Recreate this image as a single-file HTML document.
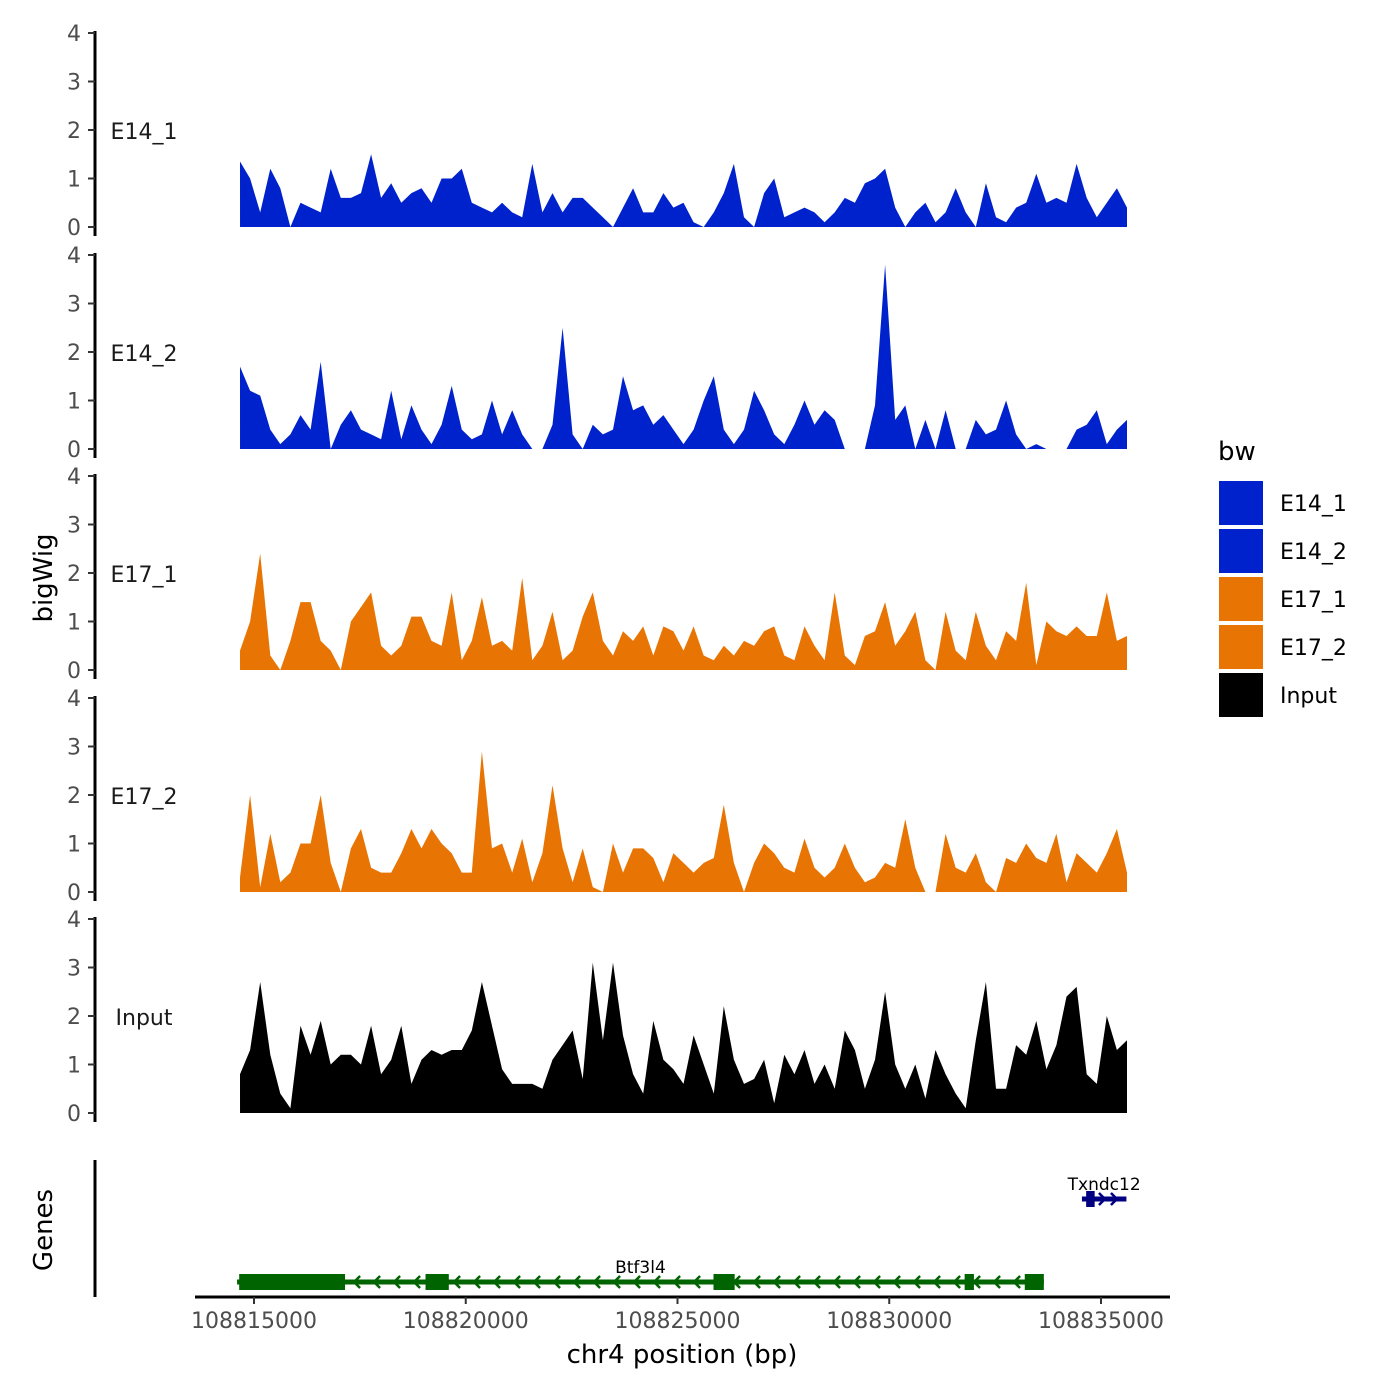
<!DOCTYPE html>
<html><head><meta charset="utf-8"><style>
html,body{margin:0;padding:0;background:#fff;}
svg{display:block;font-family:"DejaVu Sans","Liberation Sans",sans-serif;}
</style></head><body>
<svg id="chart" width="1400" height="1400" viewBox="0 0 1400 1400" xmlns="http://www.w3.org/2000/svg">
<g id="tracks"></g>
<g id="genes"></g>
<g id="xaxis"></g>
<g id="legend"></g>
<text x="0" y="0" transform="translate(52,578) rotate(-90)" text-anchor="middle" font-size="26" fill="#000">bigWig</text>
<text x="0" y="0" transform="translate(52,1230) rotate(-90)" text-anchor="middle" font-size="26" fill="#000">Genes</text>
<text x="682" y="1363" text-anchor="middle" font-size="26" fill="#000">chr4 position (bp)</text>
</svg>
<script>
const NS="http://www.w3.org/2000/svg";
const trackNames=["E14_1","E14_2","E17_1","E17_2","Input"];
const trackColors=["#0022cc","#0022cc","#e87503","#e87503","#000000"];
const posStart=108814670;
const posStep=238;
const yTicks=[0,1,2,3,4];
const xTicks=[108815000,108820000,108825000,108830000,108835000];
const e14_1=[1.35,1.0,0.3,1.2,0.8,0,0.5,0.4,0.3,1.2,0.6,0.6,0.7,1.5,0.6,0.9,0.5,0.7,0.8,0.5,1.0,1.0,1.2,0.5,0.4,0.3,0.5,0.3,0.2,1.3,0.3,0.7,0.3,0.6,0.6,0.4,0.2,0,0.4,0.8,0.3,0.3,0.7,0.4,0.5,0.1,0,0.3,0.7,1.3,0.2,0,0.7,1.0,0.2,0.3,0.4,0.3,0.1,0.3,0.6,0.5,0.9,1.0,1.2,0.4,0,0.3,0.5,0.1,0.3,0.8,0.3,0,0.9,0.2,0.1,0.4,0.5,1.1,0.5,0.6,0.5,1.3,0.6,0.2,0.5,0.8,0.4];
const e14_2=[1.7,1.2,1.1,0.4,0.1,0.3,0.7,0.4,1.8,0,0.5,0.8,0.4,0.3,0.2,1.2,0.2,0.9,0.4,0.1,0.5,1.3,0.4,0.2,0.3,1.0,0.3,0.8,0.3,0,0,0.5,2.5,0.3,0,0.5,0.3,0.4,1.5,0.8,0.9,0.5,0.7,0.4,0.1,0.4,1.0,1.5,0.4,0.1,0.4,1.2,0.8,0.3,0.1,0.5,1.0,0.5,0.8,0.6,0,0,0,0.9,3.8,0.6,0.9,0,0.6,0,0.8,0,0,0.6,0.3,0.4,1.0,0.3,0,0.1,0,0,0,0.4,0.5,0.8,0.1,0.4,0.6];
const e17_1=[0.4,1.0,2.4,0.3,0,0.6,1.4,1.4,0.6,0.4,0,1.0,1.3,1.6,0.5,0.3,0.5,1.1,1.1,0.6,0.5,1.6,0.2,0.6,1.5,0.5,0.6,0.4,1.9,0.2,0.5,1.2,0.2,0.4,1.1,1.6,0.6,0.3,0.8,0.6,0.9,0.3,0.9,0.8,0.4,0.9,0.3,0.2,0.5,0.3,0.6,0.5,0.8,0.9,0.3,0.2,0.9,0.5,0.2,1.6,0.3,0.1,0.7,0.8,1.4,0.5,0.8,1.2,0.2,0,1.2,0.4,0.2,1.2,0.5,0.2,0.8,0.6,1.8,0.1,1.0,0.8,0.7,0.9,0.7,0.7,1.6,0.6,0.7];
const e17_2=[0.3,2.0,0.1,1.2,0.2,0.4,1.0,1.0,2.0,0.6,0,0.9,1.3,0.5,0.4,0.4,0.8,1.3,0.9,1.3,1.0,0.8,0.4,0.4,2.9,0.9,1.0,0.4,1.1,0.2,0.8,2.2,0.9,0.2,0.9,0.1,0,1.0,0.4,0.9,0.9,0.7,0.2,0.8,0.6,0.4,0.6,0.7,1.8,0.6,0,0.6,1.0,0.8,0.5,0.4,1.1,0.5,0.3,0.5,1.0,0.5,0.2,0.3,0.6,0.5,1.5,0.5,0,0,1.2,0.5,0.4,0.8,0.2,0,0.7,0.6,1.0,0.7,0.6,1.2,0.2,0.8,0.6,0.4,0.8,1.3,0.4];
const input=[0.8,1.3,2.7,1.2,0.4,0.1,1.8,1.2,1.9,1.0,1.2,1.2,1.0,1.8,0.8,1.1,1.8,0.6,1.1,1.3,1.2,1.3,1.3,1.7,2.7,1.8,0.9,0.6,0.6,0.6,0.5,1.1,1.4,1.7,0.7,3.1,1.5,3.1,1.6,0.8,0.4,1.9,1.1,0.9,0.6,1.6,1.0,0.4,2.2,1.1,0.6,0.7,1.1,0.2,1.2,0.8,1.3,0.6,1.0,0.5,1.7,1.3,0.5,1.1,2.5,1.0,0.5,1.0,0.3,1.3,0.8,0.4,0.1,1.5,2.7,0.5,0.5,1.4,1.2,1.9,0.9,1.4,2.4,2.6,0.8,0.6,2.0,1.3,1.5];
const trackValues=[e14_1,e14_2,e17_1,e17_2,input];
// gene model (genomic coordinates)
const btfStart=108814600, btfEnd=108833650;
const btfExons=[[108814650,108817150],[108819050,108819600],[108825850,108826350],[108831780,108832000],[108833200,108833650]];
const txnStart=108834550, txnEnd=108835600;
const txnExons=[[108834650,108834850]];

const xs=v=>254+(v-108815000)*847/20000;
const trackZero=[227,449,670,892,1113];
const unitPx=48.5;
function el(tag,attrs,parent){const e=document.createElementNS(NS,tag);for(const k in attrs)e.setAttribute(k,attrs[k]);parent.appendChild(e);return e;}

const tracksG=document.getElementById('tracks');
trackValues.forEach((vals,t)=>{
  const z=trackZero[t];
  const ys=v=>z-v*unitPx;
  const g=el('g',{},tracksG);
  
  
  let pts=[xs(posStart)+','+z];
  vals.forEach((v,i)=>{pts.push(xs(posStart+i*posStep).toFixed(1)+','+ys(v).toFixed(1));});
  pts.push(xs(posStart+(vals.length-1)*posStep).toFixed(1)+','+z);
  const p=el('polygon',{points:pts.join(' '),fill:trackColors[t]},g);
  
  
  const ax=el('line',{x1:95,x2:95,y1:ys(4)-2,y2:z+9,stroke:'#000','stroke-width':3},g);
  
  
  yTicks.forEach(tv=>{
    el('line',{x1:88,x2:95,y1:ys(tv),y2:ys(tv),stroke:'#333','stroke-width':2},g);
    const tx=el('text',{x:81,y:ys(tv)+8,'text-anchor':'end','font-size':22,fill:'#4d4d4d'},g);
    tx.textContent=tv;
    
    
  });
  const lb=el('text',{x:144,y:ys(2)+9,'text-anchor':'middle','font-size':22,fill:'#1a1a1a'},g);
  lb.textContent=trackNames[t];
  
  
});

// genes
const gg=document.getElementById('genes');
el('line',{x1:95,x2:95,y1:1160,y2:1297,stroke:'#000','stroke-width':3},gg);
function drawGene(s,e,exons,y,col,dir,name,ly){
  const g=el('g',{},gg);
  
  
  el('rect',{x:xs(s),y:y-2.5,width:xs(e)-xs(s),height:5,fill:col},g);
  const sp=dir<0?20:12;
  for(let x=xs(s)+(dir<0?18:10);x<xs(e)-4;x+=sp){
    const d=dir<0?`M${x+5},${y-6} L${x-1},${y} L${x+5},${y+6}`:`M${x-5},${y-6} L${x+1},${y} L${x-5},${y+6}`;
    el('path',{d:d,stroke:col,'stroke-width':2.5,fill:'none'},g);
  }
  exons.forEach(ex=>{el('rect',{x:xs(ex[0]),y:y-8,width:xs(ex[1])-xs(ex[0]),height:16,fill:col},g);});
  const t=el('text',{x:(xs(s)+xs(e))/2,y:ly,'text-anchor':'middle','font-size':17,fill:'#000'},g);
  t.textContent=name;
}
drawGene(btfStart,btfEnd,btfExons,1282,'#006400',-1,'Btf3l4',1273);
drawGene(txnStart,txnEnd,txnExons,1199,'#000080',1,'Txndc12',1190);

// x axis
const xg=document.getElementById('xaxis');
el('line',{x1:195,x2:1170,y1:1297,y2:1297,stroke:'#000','stroke-width':3},xg);
xTicks.forEach(v=>{
  el('line',{x1:xs(v),x2:xs(v),y1:1297,y2:1304,stroke:'#333','stroke-width':2},xg);
  const t=el('text',{x:xs(v),y:1328,'text-anchor':'middle','font-size':22,fill:'#4d4d4d'},xg);
  t.textContent=v;
  
  
});

// legend
const lg=document.getElementById('legend');
const lt=el('text',{x:1218,y:460,'font-size':26,fill:'#000'},lg);
lt.textContent='bw';
const legNames=["E14_1","E14_2","E17_1","E17_2","Input"];
legNames.forEach((n,i)=>{
  const y=481+i*48;
  const r=el('rect',{x:1219,y:y,width:44,height:44,fill:trackColors[i]},lg);
  
  
  const t=el('text',{x:1280,y:y+30,'font-size':22,fill:'#000'},lg);
  t.textContent=n;
  
  
});
</script>
</body></html>
